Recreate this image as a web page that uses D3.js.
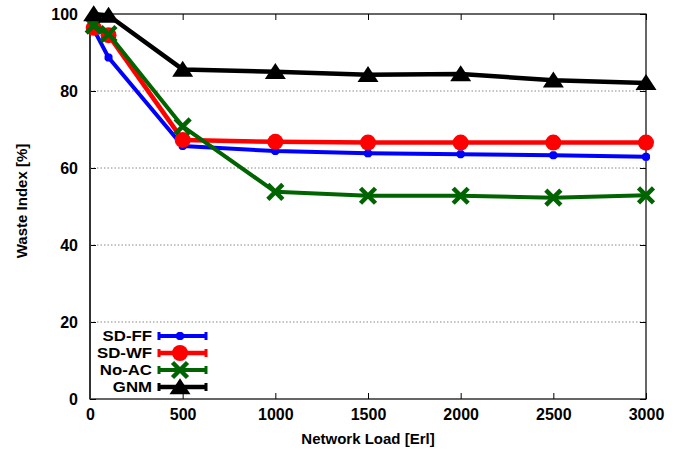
<!DOCTYPE html>
<html>
<head>
<meta charset="utf-8">
<script src="https://cdn.jsdelivr.net/npm/d3@7"></script>
<style>
  html, body { margin: 0; padding: 0; background: #fff; }
  svg { display: block; font-family: "Liberation Sans", Arial, sans-serif; font-weight: bold; }
</style>
</head>
<body>
<svg id="chart" width="678" height="451"></svg>
<script>
// Network load points (Erlang)
const loads = [20, 100, 500, 1000, 1500, 2000, 2500, 3000];

// Waste index per scheme (%)
const sdFF  = [96.0, 88.7, 65.7, 64.4, 63.8, 63.6, 63.3, 62.9];
const sdWF  = [96.4, 94.5, 67.3, 66.8, 66.6, 66.6, 66.6, 66.6];
const noAC  = [97.0, 94.8, 70.8, 53.8, 52.8, 52.8, 52.3, 52.9];
const gnm   = [100.0, 99.6, 85.6, 85.0, 84.2, 84.4, 82.8, 82.1];

const seriesNames = ["SD-FF", "SD-WF", "No-AC", "GNM"];
const xTicks = [0, 500, 1000, 1500, 2000, 2500, 3000];
const yTicks = [0, 20, 40, 60, 80, 100];

const series = [
  { name: seriesNames[0], values: sdFF, color: "#0000ff", marker: "star",     width: 4 },
  { name: seriesNames[1], values: sdWF, color: "#ff0000", marker: "circle",   width: 4.5 },
  { name: seriesNames[2], values: noAC, color: "#006400", marker: "cross",    width: 4 },
  { name: seriesNames[3], values: gnm,  color: "#000000", marker: "triangle", width: 4.5 }
];

const svg = d3.select("#chart");
const plotL = 90, plotR = 646, plotT = 14, plotB = 399;

const x = d3.scaleLinear().domain([0, 3000]).range([plotL, plotR]);
const y = d3.scaleLinear().domain([0, 100]).range([plotB, plotT]);

// horizontal dotted grid
svg.append("g")
  .selectAll("line")
  .data(yTicks.filter(v => v > 0 && v < 100))
  .join("line")
  .attr("x1", plotL).attr("x2", plotR)
  .attr("y1", d => y(d)).attr("y2", d => y(d))
  .attr("stroke", "#888").attr("stroke-width", 1)
  .attr("stroke-dasharray", "1.5,2");

// axes with inward ticks on all four sides
const axisStyle = g => {
  g.select(".domain").remove();
  g.selectAll(".tick line").attr("stroke", "#000").attr("stroke-width", 1);
  g.selectAll(".tick text").attr("fill", "#000")
    .style("font-size", "16px").style("font-weight", "bold")
    .style("font-family", "'Liberation Sans', Arial, sans-serif");
};

svg.append("g").attr("transform", `translate(0,${plotB})`)
  .call(d3.axisBottom(x).tickValues(xTicks).tickSizeInner(-6).tickSizeOuter(0).tickPadding(10).tickFormat(d3.format("d")))
  .call(axisStyle);
svg.append("g").attr("transform", `translate(0,${plotT})`)
  .call(d3.axisTop(x).tickValues(xTicks).tickSizeInner(-6).tickSizeOuter(0).tickFormat(""))
  .call(axisStyle);
svg.append("g").attr("transform", `translate(${plotL},0)`)
  .call(d3.axisLeft(y).tickValues(yTicks).tickSizeInner(-6).tickSizeOuter(0).tickPadding(12).tickFormat(d3.format("d")))
  .call(axisStyle);
svg.append("g").attr("transform", `translate(${plotR},0)`)
  .call(d3.axisRight(y).tickValues(yTicks).tickSizeInner(-6).tickSizeOuter(0).tickFormat(""))
  .call(axisStyle);

// plot frame
svg.append("rect")
  .attr("x", plotL).attr("y", plotT)
  .attr("width", plotR - plotL).attr("height", plotB - plotT)
  .attr("fill", "none").attr("stroke", "#000").attr("stroke-width", 1.2);
svg.append("line")
  .attr("x1", plotL).attr("x2", plotL).attr("y1", plotT).attr("y2", plotB)
  .attr("stroke", "#333").attr("stroke-width", 2);

// marker drawing
function drawMarker(g, type, color, cx, cy, scale = 1) {
  if (type === "circle") {
    g.append("circle").attr("cx", cx).attr("cy", cy).attr("r", 8 * scale).attr("fill", color);
  } else if (type === "triangle") {
    const w = 10.5 * scale, h = 16 * scale;
    g.append("path")
      .attr("d", `M${cx},${cy - h * 0.55} L${cx + w},${cy + h * 0.45} L${cx - w},${cy + h * 0.45} Z`)
      .attr("fill", color);
  } else if (type === "cross") {
    const s = 7.5 * scale;
    g.append("path")
      .attr("d", `M${cx - s},${cy - s} L${cx + s},${cy + s} M${cx - s},${cy + s} L${cx + s},${cy - s}`)
      .attr("stroke", color).attr("stroke-width", 4.5).attr("fill", "none");
  } else if (type === "star") {
    const s = 4 * scale;
    g.append("path")
      .attr("d", `M${cx - s},${cy} L${cx + s},${cy} M${cx},${cy - s} L${cx},${cy + s} M${cx - s * 0.75},${cy - s * 0.75} L${cx + s * 0.75},${cy + s * 0.75} M${cx - s * 0.75},${cy + s * 0.75} L${cx + s * 0.75},${cy - s * 0.75}`)
      .attr("stroke", color).attr("stroke-width", 3).attr("fill", "none");
  }
}

const line = d3.line().x(d => x(d[0])).y(d => y(d[1]));

series.forEach(s => {
  const g = svg.append("g");
  const pts = loads.map((l, i) => [l, s.values[i]]);
  g.append("path").datum(pts)
    .attr("d", line)
    .attr("fill", "none")
    .attr("stroke", s.color)
    .attr("stroke-width", s.width)
    .attr("stroke-linejoin", "round");
  pts.forEach(p => drawMarker(g, s.marker, s.color, x(p[0]), y(p[1])));
});

// legend
const legend = svg.append("g");
const legRows = [336, 353, 370, 387];
series.forEach((s, i) => {
  const ly = legRows[i];
  legend.append("text")
    .attr("transform", `translate(152,${ly}) scale(1.12,1)`)
    .attr("dy", "0.36em")
    .attr("text-anchor", "end")
    .style("font-size", "15px")
    .text(s.name);
  legend.append("line")
    .attr("x1", 159).attr("x2", 206).attr("y1", ly).attr("y2", ly)
    .attr("stroke", s.color).attr("stroke-width", s.width);
  [159, 206].forEach(ex => legend.append("line")
    .attr("x1", ex).attr("x2", ex).attr("y1", ly - 4).attr("y2", ly + 4)
    .attr("stroke", s.color).attr("stroke-width", 3));
  drawMarker(legend, s.marker, s.color, 180, ly, 1);
});

// axis titles
svg.append("text")
  .attr("x", (plotL + plotR) / 2).attr("y", 444)
  .attr("text-anchor", "middle")
  .style("font-size", "15px")
  .text("Network Load [Erl]");
svg.append("text")
  .attr("transform", `translate(27,201) rotate(-90)`)
  .attr("text-anchor", "middle")
  .style("font-size", "15px")
  .text("Waste Index [%]");
</script>
</body>
</html>
